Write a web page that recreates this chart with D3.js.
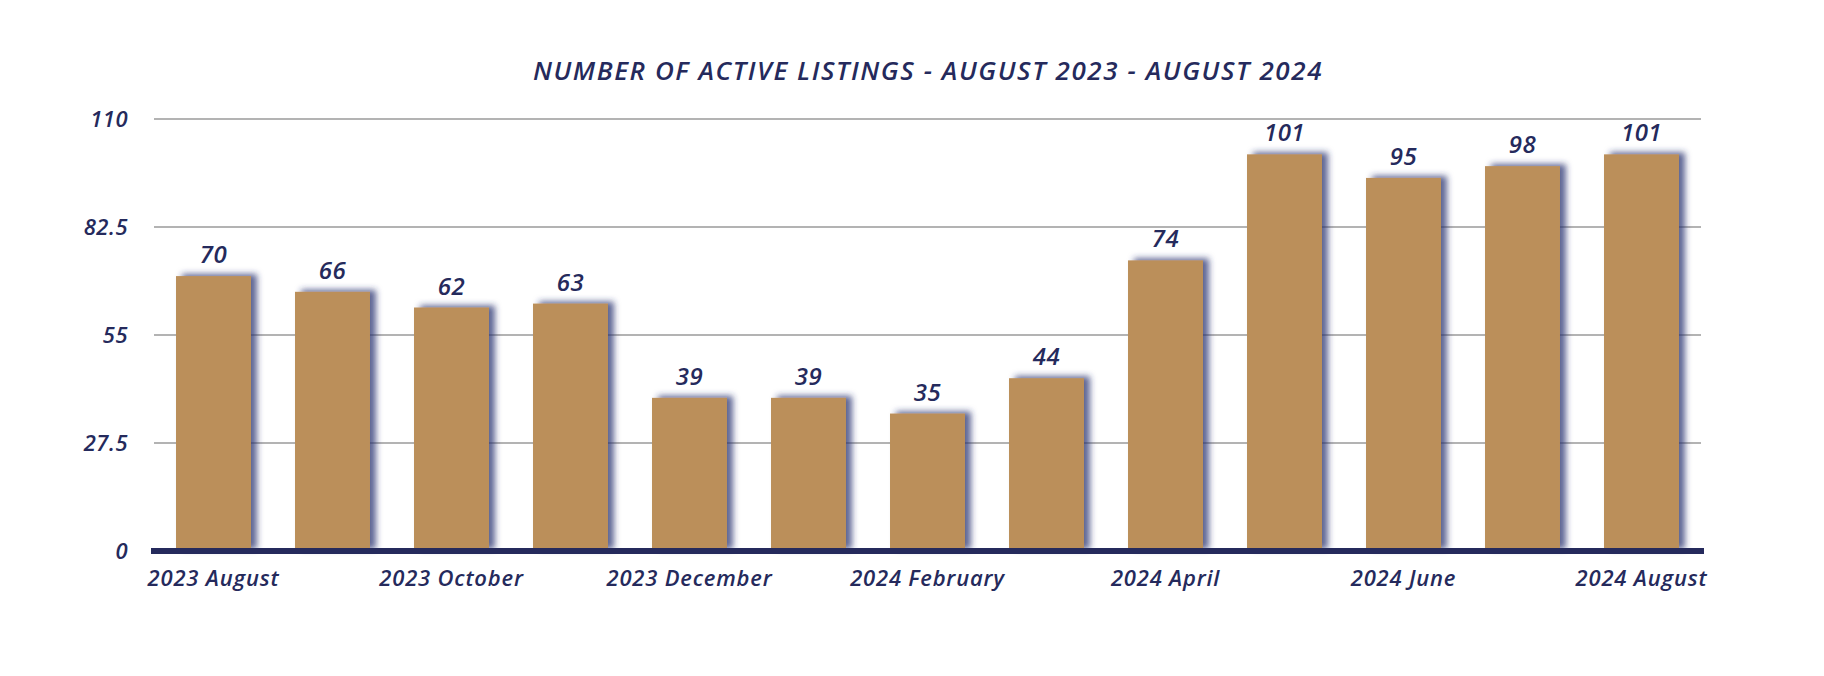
<!DOCTYPE html>
<html>
<head>
<meta charset="utf-8">
<script src="https://cdn.jsdelivr.net/npm/d3@7"></script>
<style>
  html, body { margin: 0; padding: 0; background: #ffffff; }
  svg { display: block; }
  text { font-family: "Open Sans", "Lato", sans-serif; font-style: italic; font-weight: 600; fill: #252a5c; }
</style>
</head>
<body>
<svg id="chart" width="1824" height="676"></svg>
<script>
const categories = ["2023 August", "2023 September", "2023 October", "2023 November", "2023 December",
  "2024 January", "2024 February", "2024 March", "2024 April", "2024 May", "2024 June", "2024 July", "2024 August"];
const values = [70, 66, 62, 63, 39, 39, 35, 44, 74, 101, 95, 98, 101];
const yTicks = [0, 27.5, 55, 82.5, 110];
const shownXLabels = ["2023 August", "2023 October", "2023 December", "2024 February", "2024 April", "2024 June", "2024 August"];
const title = "NUMBER OF ACTIVE LISTINGS - AUGUST 2023 - AUGUST 2024";

const svg = d3.select("#chart");
const navy = "#252a5c";
const fontFam = "'Open Sans', Lato, sans-serif";

const x = d3.scaleBand().domain(categories).range([154, 1701]).paddingInner(0.37).paddingOuter(0.185);
const y = d3.scaleLinear().domain([0, 110]).range([551, 119]);

const defs = svg.append("defs");
const f = defs.append("filter").attr("id", "shadow").attr("x", "-20%").attr("y", "-20%").attr("width", "150%").attr("height", "140%");
f.append("feDropShadow").attr("dx", 6).attr("dy", -2).attr("stdDeviation", 3.2)
  .attr("flood-color", "#2a3070").attr("flood-opacity", 0.75);

// title
svg.append("text").attr("x", 928).attr("y", 80).attr("text-anchor", "middle")
  .style("font-size", "26px").style("letter-spacing", "1.6px").text(title);

// gridlines
svg.append("g").selectAll("line").data(yTicks.filter(d => d > 0)).join("line")
  .attr("x1", 154).attr("x2", 1701)
  .attr("y1", d => y(d)).attr("y2", d => y(d))
  .attr("stroke", "#b3b3b3").attr("stroke-width", 2);

// y axis labels
const yAxis = d3.axisLeft(y).tickValues(yTicks).tickSize(0).tickPadding(0).tickFormat(d => d3.format("")(d));
const yg = svg.append("g").attr("transform", "translate(128,0)").call(yAxis);
yg.select(".domain").remove();
yg.selectAll("text").style("font-size", "22px").style("letter-spacing", "0.5px").attr("fill", navy).attr("dy", "0.36em")
  .style("font-family", fontFam);

// bars
svg.append("g").selectAll("rect").data(values).join("rect")
  .attr("x", (d, i) => x(categories[i]))
  .attr("y", d => y(d))
  .attr("width", x.bandwidth())
  .attr("height", d => y(0) - y(d))
  .attr("fill", "#bb8f5a")
  .attr("filter", "url(#shadow)");

// baseline
svg.append("line").attr("x1", 151).attr("x2", 1704).attr("y1", y(0)).attr("y2", y(0))
  .attr("stroke", navy).attr("stroke-width", 6);

// value labels
svg.append("g").selectAll("text").data(values).join("text")
  .attr("x", (d, i) => x(categories[i]) + x.bandwidth() / 2)
  .attr("y", d => y(d) - 13)
  .attr("text-anchor", "middle")
  .style("font-size", "24px").style("letter-spacing", "0.5px")
  .text(d => d);

// x axis labels
const xAxis = d3.axisBottom(x).tickSize(0).tickPadding(0).tickValues(shownXLabels);
const xg = svg.append("g").attr("transform", "translate(0,586)").call(xAxis);
xg.select(".domain").remove();
xg.selectAll("text").style("font-size", "22px").style("letter-spacing", "0.8px").attr("fill", navy).attr("dy", 0).attr("y", 0)
  .style("font-family", fontFam);
</script>
</body>
</html>
